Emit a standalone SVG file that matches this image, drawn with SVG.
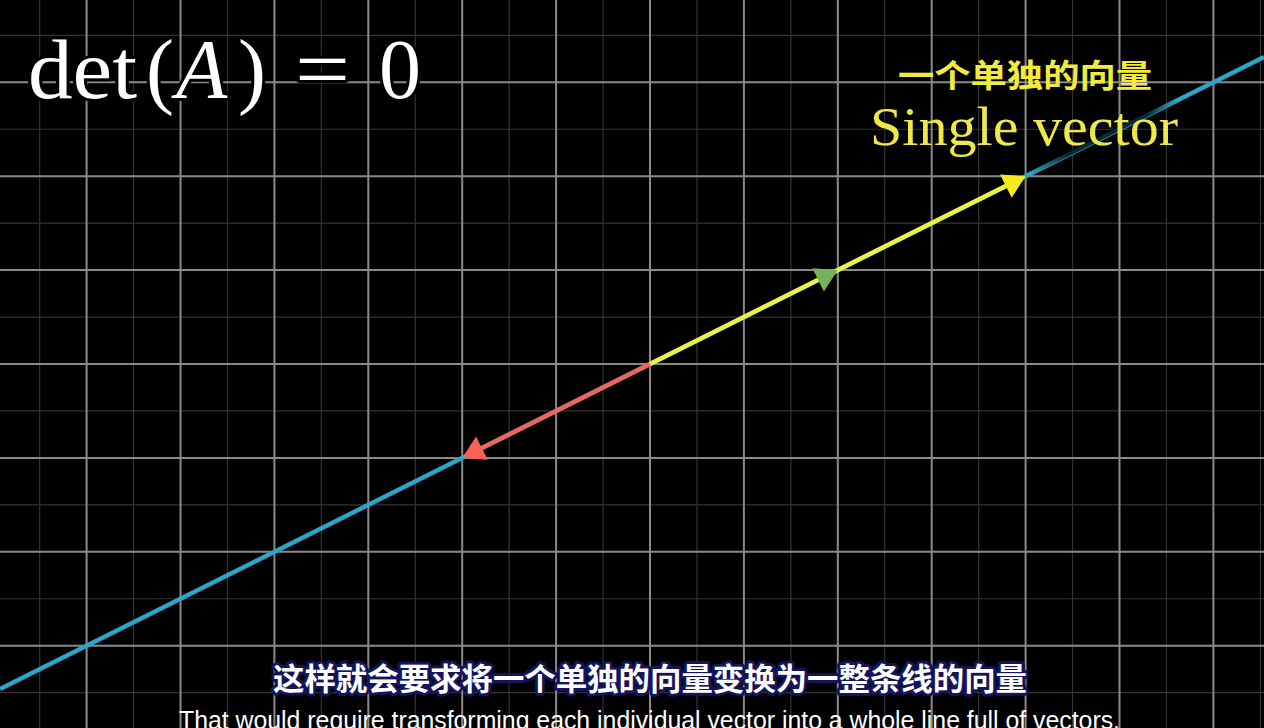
<svg xmlns="http://www.w3.org/2000/svg" width="1264" height="728" viewBox="0 0 1264 728">
<defs>
<style>
.minor{stroke:#343434;stroke-width:1.2}
.major{stroke:#8a8a8a;stroke-width:2}
.vec{stroke-width:4.5;stroke-linecap:butt;fill:none}
.tex{font-family:"Liberation Serif","DejaVu Serif",serif;fill:#ffffff;font-size:84px;stroke:#000;stroke-width:6;paint-order:stroke;stroke-linejoin:round}
.cn{font-family:"Noto Sans CJK SC","Noto Sans",sans-serif;font-weight:bold}
</style>
<linearGradient id="fade" gradientUnits="userSpaceOnUse" x1="1030" y1="173" x2="1176" y2="100">
<stop offset="0" stop-color="#000" stop-opacity="0"/>
<stop offset="0.25" stop-color="#000" stop-opacity="0.75"/>
<stop offset="0.8" stop-color="#000" stop-opacity="0.75"/>
<stop offset="1" stop-color="#000" stop-opacity="0"/>
</linearGradient>
</defs>
<rect width="1264" height="728" fill="#000"/>
<g id="grid">
<g class="minor">
<line x1="39.65" y1="0" x2="39.65" y2="728"/><line x1="133.55" y1="0" x2="133.55" y2="728"/><line x1="227.45" y1="0" x2="227.45" y2="728"/><line x1="321.35" y1="0" x2="321.35" y2="728"/><line x1="415.25" y1="0" x2="415.25" y2="728"/><line x1="509.15" y1="0" x2="509.15" y2="728"/><line x1="603.05" y1="0" x2="603.05" y2="728"/><line x1="696.95" y1="0" x2="696.95" y2="728"/><line x1="790.85" y1="0" x2="790.85" y2="728"/><line x1="884.75" y1="0" x2="884.75" y2="728"/><line x1="978.65" y1="0" x2="978.65" y2="728"/><line x1="1072.55" y1="0" x2="1072.55" y2="728"/><line x1="1166.45" y1="0" x2="1166.45" y2="728"/><line x1="1260.35" y1="0" x2="1260.35" y2="728"/>
<line x1="0" y1="35.35" x2="1264" y2="35.35"/><line x1="0" y1="129.25" x2="1264" y2="129.25"/><line x1="0" y1="223.15" x2="1264" y2="223.15"/><line x1="0" y1="317.05" x2="1264" y2="317.05"/><line x1="0" y1="410.95" x2="1264" y2="410.95"/><line x1="0" y1="504.85" x2="1264" y2="504.85"/><line x1="0" y1="598.75" x2="1264" y2="598.75"/><line x1="0" y1="692.65" x2="1264" y2="692.65"/>
</g>
<g class="major">
<line x1="86.6" y1="0" x2="86.6" y2="728"/><line x1="180.5" y1="0" x2="180.5" y2="728"/><line x1="274.4" y1="0" x2="274.4" y2="728"/><line x1="368.3" y1="0" x2="368.3" y2="728"/><line x1="462.2" y1="0" x2="462.2" y2="728"/><line x1="556.1" y1="0" x2="556.1" y2="728"/><line x1="650" y1="0" x2="650" y2="728"/><line x1="743.9" y1="0" x2="743.9" y2="728"/><line x1="837.8" y1="0" x2="837.8" y2="728"/><line x1="931.7" y1="0" x2="931.7" y2="728"/><line x1="1025.6" y1="0" x2="1025.6" y2="728"/><line x1="1119.5" y1="0" x2="1119.5" y2="728"/><line x1="1213.4" y1="0" x2="1213.4" y2="728"/>
<line x1="0" y1="82.3" x2="1264" y2="82.3"/><line x1="0" y1="176.2" x2="1264" y2="176.2"/><line x1="0" y1="270.1" x2="1264" y2="270.1"/><line x1="0" y1="364" x2="1264" y2="364"/><line x1="0" y1="457.9" x2="1264" y2="457.9"/><line x1="0" y1="551.8" x2="1264" y2="551.8"/><line x1="0" y1="645.7" x2="1264" y2="645.7"/>
</g>
</g>
<g id="connectors">
<line id="span-line" class="vec" x1="0" y1="689" x2="1264" y2="57" stroke="#2aa6cb"/>
<line class="vec" x1="1030" y1="173.3" x2="1176" y2="100.3" stroke="url(#fade)" stroke-width="5.5"/>
<g id="red-vector">
<line class="vec" x1="650" y1="364" x2="481.9" y2="448.1" stroke="#f0655a"/>
<polygon points="462.2,457.9 487.7,459.7 476.1,436.4" fill="#fc6255"/>
</g>
<g id="yellow-vector">
<line class="vec" x1="650" y1="364" x2="1005.9" y2="186" stroke="#eef043"/>
<polygon points="1025.6,176.2 1000.1,174.4 1011.7,197.7" fill="#f7ea1c"/>
</g>
<g id="green-vector">
<polygon points="837.8,270.1 812.3,268.3 823.9,291.6" fill="#77b25a"/>
</g>
</g>
<g id="formula">
<text class="tex" x="28" y="98" textLength="109" lengthAdjust="spacingAndGlyphs">det</text>
<text class="tex" x="146" y="98">(</text>
<text class="tex" x="176" y="98" font-style="italic">A</text>
<text class="tex" x="238" y="98">)</text>
<text class="tex" x="295" y="98" textLength="55" lengthAdjust="spacingAndGlyphs">=</text>
<text class="tex" x="379" y="98">0</text>
</g>
<g id="label">
<text class="cn" x="898" y="87" font-size="32" fill="#f2ea3c" textLength="254" lengthAdjust="spacingAndGlyphs">一个单独的向量</text>
<text x="870" y="145" font-family="Liberation Serif, DejaVu Serif, serif" font-size="55" fill="#eee84a" textLength="308" lengthAdjust="spacingAndGlyphs">Single vector</text>
</g>
<g id="subtitles">
<text class="cn" x="273" y="690" font-size="31" font-weight="900" fill="#ffffff" stroke="#14145a" stroke-width="6" stroke-linejoin="round" paint-order="stroke" textLength="754" lengthAdjust="spacingAndGlyphs">这样就会要求将一个单独的向量变换为一整条线的向量</text>
<text x="179" y="729" font-family="Liberation Sans, Arial, sans-serif" font-size="25" fill="#ffffff" textLength="941" lengthAdjust="spacingAndGlyphs">That would require transforming each individual vector into a whole line full of vectors.</text>
</g>
</svg>
